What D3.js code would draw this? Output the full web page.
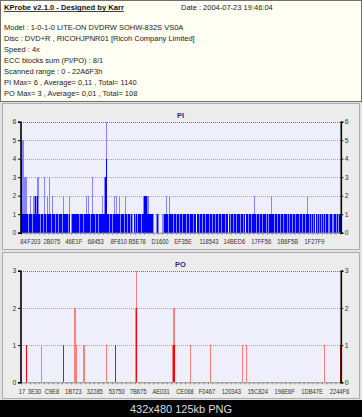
<!DOCTYPE html>
<html><head><meta charset="utf-8">
<script src="https://cdn.jsdelivr.net/npm/d3@7"></script>
<style>
body{margin:0;background:#000;}
svg{display:block;font-family:"Liberation Sans",Arial,sans-serif;}
</style>
</head><body>
<svg id="c" width="362" height="417"></svg>
<script>
// ---------------- data ----------------
const headerTitle = "KProbe v2.1.0 - Designed by Karr";
const headerDate = "Date : 2004-07-23 19:46:04";
const headerLines = [
  "Model : 1-0-1-0 LITE-ON DVDRW SOHW-832S  VS0A",
  "Disc : DVD+R , RICOHJPNR01 [Ricoh Company Limited]",
  "Speed : 4x",
  "ECC blocks sum (PI/PO) : 8/1",
  "Scanned range : 0 - 22A6F3h",
  "PI Max= 6 , Average= 0,11 , Total= 1140",
  "PO Max= 3 , Average= 0,01 , Total= 108"
];
const caption = "432x480 125kb PNG";

const piYTicks = [0, 1, 2, 3, 4, 5, 6];
const poYTicks = [0, 1, 2, 3];

const piTickLabels = ["84","F203","2B075","46E1F","68453","8F810","B5E78","D1600","EF35E","118543","14BED6","17FF56","1B6F5B","1F27F9"];
const piTickAt     = [4, 25, 61, 105, 149, 195, 232, 278, 324, 376, 427, 481, 534, 588];

const poTickLabels = ["17","3E30","C9E8","1B723","32285","53750","7B675","AE031","CE068","F0467","120343","15C824","198E6F","1DB47E","2244F6"];
const poTickAt     = [1, 26, 61, 104, 147, 191, 234, 280, 328, 372, 421, 474, 528, 583, 638];

// PI error counts per scan sample (640 samples)
const piChunks = [
  "45155131311311101121","11102112221232131101","11111031110121113111","10211111101111011111",
  "11102111111111102100","01111111111111111011","11110111112111121110","11311111011111101111",
  "11211113336411111011","11011121111211112110","11111101211110111101","11100011011110111111",
  "10112122222212211111","11111000000111100000","00011011112111101211","11111011110111111011",
  "11011111111011110111","11111011110011110111","11101111011111111011","11011111101111011111",
  "10111111011111001110","11110111111011111101","11111011001111011111","10111121110111111011",
  "11011111111011011111","12111110111101111110","11110111111110110111","11101111011111111011",
  "11011111101121110111","10110111001110110111","01111011011111100111","11100111111011011111"
];
const piValues = piChunks.join("").split("").map(Number);

// PO: non-zero samples (sample index, count)
const poSpikeAt  = [10, 11, 40, 84, 85, 107, 108, 110, 125, 126, 171, 188, 189, 229, 230, 231, 303, 304, 305, 306, 307, 338, 378, 442, 450, 606, 638, 639];
const poSpikeVal = [1,  1,  1,  1,  1,  2,   2,   1,   1,   1,   1,   1,   1,   2,   3,   2,   1,   1,   2,   2,   1,   1,   1,   1,   1,   1,   1,   1];
const N = piValues.length;
const poValues = new Array(N).fill(0);
poSpikeAt.forEach((s, i) => { poValues[s] = poSpikeVal[i]; });

// ---------------- drawing ----------------
const svg = d3.select("#c");
svg.append("rect").attr("width", 362).attr("height", 417).attr("fill", "#000");
svg.append("rect").attr("x", 0).attr("y", 0).attr("width", 362).attr("height", 400).attr("fill", "#e2e2e2");

// header
svg.append("rect").attr("x", 0.5).attr("y", 0.5).attr("width", 361).attr("height", 101)
  .attr("fill", "#fffff3").attr("stroke", "#6f6f6f");
const tTitle = svg.append("text").attr("x", 4).attr("y", 10).attr("font-size", 7.6).attr("font-weight", "bold")
  .attr("fill", "#111").text(headerTitle);
const tw = tTitle.node().getComputedTextLength();
svg.append("line").attr("x1", 4).attr("x2", 4 + tw).attr("y1", 11.5).attr("y2", 11.5).attr("stroke", "#111").attr("stroke-width", 0.8);
svg.append("text").attr("x", 181).attr("y", 10).attr("font-size", 7.5).attr("fill", "#222").text(headerDate);
svg.selectAll("text.hl").data(headerLines).enter().append("text").attr("class", "hl")
  .attr("x", 4).attr("y", (d, i) => 29.5 + i * 11).attr("font-size", 7.5).attr("fill", "#222").text(d => d);

function drawChart(o) {
  const g = svg.append("g");
  g.append("rect").attr("x", 2.5).attr("y", o.py0 + 0.5).attr("width", 357).attr("height", o.py1 - o.py0)
    .attr("fill", "#ececec").attr("stroke", "#adadad");
  const x = d3.scaleLinear().domain([0, N]).range([21, 341]);
  const y = d3.scaleLinear().domain([0, o.ymax]).range([o.y0, o.y1]);
  // plot bg
  g.append("rect").attr("x", x(0)).attr("y", y(o.ymax)).attr("width", 320).attr("height", y(0) - y(o.ymax))
    .attr("fill", "#efeffb");
  // grid
  g.selectAll("line.grid").data(o.yTicks.filter(d => d > 0)).enter().append("line")
    .attr("x1", x(0)).attr("x2", 340).attr("y1", d => Math.round(y(d)) + 0.5).attr("y2", d => Math.round(y(d)) + 0.5)
    .attr("stroke", d => d === o.ymax ? "#707070" : "#a8a8a8").attr("stroke-dasharray", "1,1");
  // bars: each pixel column holds two samples; full where both reach, light where only one does
  const cols = d3.range(N / 2).map(p => {
    const a = o.values[2 * p], b = o.values[2 * p + 1];
    return {s: 2 * p, lo: Math.min(a, b), hi: Math.max(a, b)};
  });
  g.selectAll("rect.light").data(cols.filter(c => c.hi > 0)).enter().append("rect")
    .attr("x", c => x(c.s)).attr("width", c => x(c.s + 2) - x(c.s))
    .attr("y", c => y(c.hi)).attr("height", c => y(0) - y(c.hi))
    .attr("fill", o.light).attr("shape-rendering", "crispEdges");
  g.selectAll("rect.dark").data(cols.filter(c => c.lo > 0)).enter().append("rect")
    .attr("x", c => x(c.s)).attr("width", c => x(c.s + 2) - x(c.s))
    .attr("y", c => y(c.lo)).attr("height", c => y(0) - y(c.lo))
    .attr("fill", o.color).attr("shape-rendering", "crispEdges");
  // bottom minor ticks + domain
  const minor = d3.range(0, 71).map(k => k * N / 70);
  const xa = d3.scaleLinear().domain([0, N]).range([21, 340]);
  const bx = g.append("g").attr("transform", `translate(0,${y(0)})`)
    .call(d3.axisBottom(xa).tickValues(minor).tickSize(2).tickFormat(""));
  bx.select(".domain").attr("stroke", "#8a8a8a");
  bx.selectAll(".tick line").attr("stroke", "#8a8a8a");
  // bottom labels
  const lx = g.append("g").attr("transform", `translate(0,${y(0)})`)
    .call(d3.axisBottom(xa).tickValues(o.tickAt).tickSize(0).tickPadding(6.5).tickFormat((d, i) => o.tickLabels[i]));
  lx.select(".domain").remove();
  lx.selectAll("text").attr("font-size", 6.9).attr("fill", "#333").attr("font-family", null)
    .attr("transform", "scale(0.84,1)");
  // left axis
  const la = g.append("g").attr("transform", "translate(20.5,0)")
    .call(d3.axisLeft(y).tickValues(o.yTicks).tickSize(2.5).tickPadding(1.8).tickFormat(d3.format("d")));
  la.select(".domain").attr("stroke", "#000").attr("stroke-width", 1.6);
  la.selectAll("text").attr("font-size", 6.8).attr("fill", "#333").attr("font-family", null);
  // right axis
  const ra = g.append("g").attr("transform", "translate(340.8,0)")
    .call(d3.axisRight(y).tickValues(o.yTicks).tickSize(2.5).tickPadding(1.5).tickFormat(d3.format("d")));
  ra.select(".domain").attr("stroke", "#000").attr("stroke-width", 1.6);
  ra.selectAll("text").attr("font-size", 6.8).attr("fill", "#333").attr("font-family", null);
  // title
  g.append("text").attr("x", 180.5).attr("y", o.titleY).attr("text-anchor", "middle").attr("font-size", 7.5)
    .attr("font-weight", "bold").attr("fill", "#2b2b8c").text(o.title);
}

drawChart({py0: 103, py1: 249, y0: 232.7, y1: 121.7, ymax: 6, yTicks: piYTicks, values: piValues,
  color: "#0000ff", light: "#8585ff", title: "PI", titleY: 117.6, tickAt: piTickAt, tickLabels: piTickLabels});
drawChart({py0: 252, py1: 398, y0: 382.3, y1: 270.7, ymax: 3, yTicks: poYTicks, values: poValues,
  color: "#ff0000", light: "#ff7f7f", title: "PO", titleY: 266.6, tickAt: poTickAt, tickLabels: poTickLabels});

// caption bar
svg.append("text").attr("x", 181).attr("y", 413).attr("text-anchor", "middle").attr("font-size", 11)
  .attr("fill", "#dedede").text(caption);
</script>
</body></html>
